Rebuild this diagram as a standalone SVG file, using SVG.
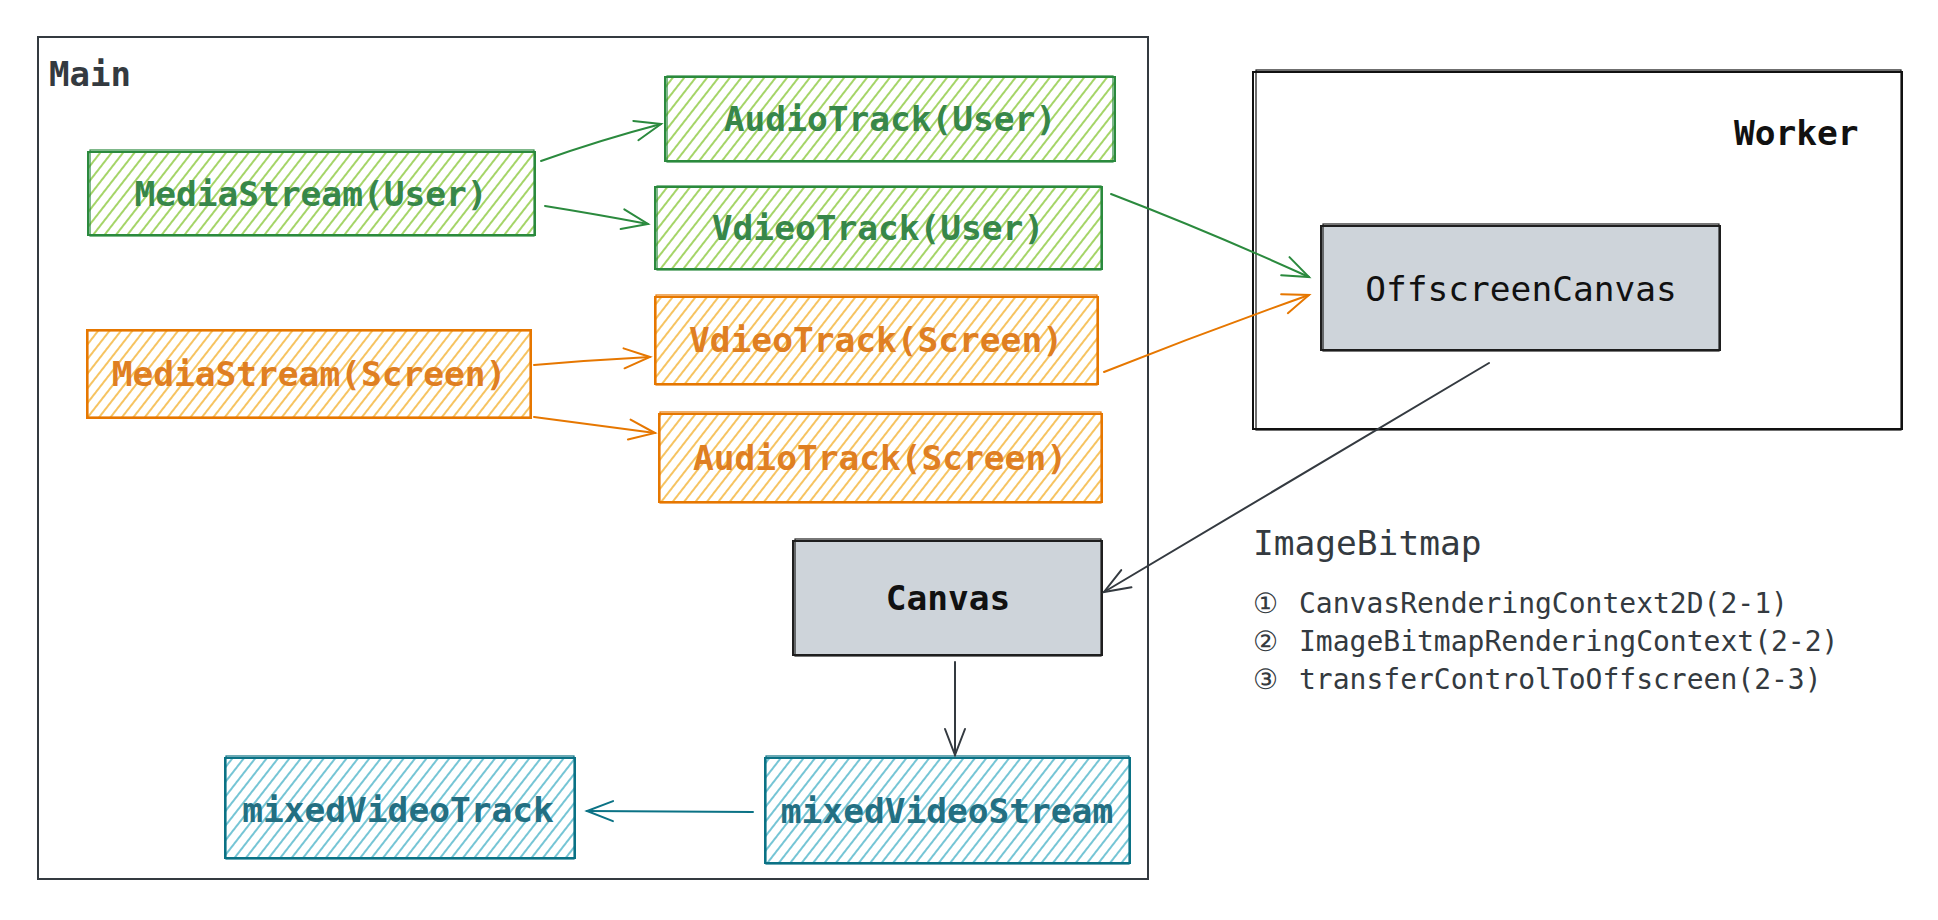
<svg xmlns="http://www.w3.org/2000/svg" width="1938" height="920" viewBox="0 0 1938 920">
<style>
text{font-family:"DejaVu Sans Mono","Liberation Mono",monospace;dominant-baseline:central}
.lbl{font-size:34.5px;text-anchor:middle}
.g .b{fill:url(#hG);stroke:#2b8a3e}
.o .b{fill:url(#hO);stroke:#e67700}
.t .b{fill:url(#hT);stroke:#0b7285}
.k .b{fill:#ced4da;stroke:#1e1e1e}
.b{stroke-width:2}
.b2{fill:none;stroke-width:1.2}
.g .b2{stroke:#2b8a3e}.o .b2{stroke:#e67700}.t .b2{stroke:#0b7285}.k .b2{stroke:#1e1e1e}
.g text{fill:#37874a;font-weight:bold}.o text{fill:#df7f22;font-weight:bold}.t text{fill:#236f82;font-weight:bold}.k text{fill:#111}
.c{fill:none;stroke-width:2;stroke-linecap:round}
.cg{stroke:#2b8a3e;marker-end:url(#aG)}
.co{stroke:#e67700;marker-end:url(#aO)}
.ck{stroke:#343a40;marker-end:url(#aK)}
.ct{stroke:#0b7285;marker-end:url(#aT)}
.frame{fill:none;stroke:#343a40;stroke-width:2}
.li{font-size:28px;fill:#343a40}
</style>
<defs>
<pattern id="hG" width="9" height="9" patternUnits="userSpaceOnUse" patternTransform="rotate(38)"><line x1="2" y1="0" x2="2" y2="9" stroke="#9bd057" stroke-width="1.8"/></pattern>
<pattern id="hO" width="9" height="9" patternUnits="userSpaceOnUse" patternTransform="rotate(38)"><line x1="2" y1="0" x2="2" y2="9" stroke="#f5bd50" stroke-width="1.8"/></pattern>
<pattern id="hT" width="9" height="9" patternUnits="userSpaceOnUse" patternTransform="rotate(38)"><line x1="2" y1="0" x2="2" y2="9" stroke="#66bfd1" stroke-width="1.8"/></pattern>
<marker id="aG" markerUnits="userSpaceOnUse" markerWidth="40" markerHeight="40" viewBox="-30 -20 40 40" refX="0" refY="0" orient="auto"><path d="M-26 -10 L0 0 L-26 10" fill="none" stroke="#2b8a3e" stroke-width="2" stroke-linecap="round"/></marker>
<marker id="aO" markerUnits="userSpaceOnUse" markerWidth="40" markerHeight="40" viewBox="-30 -20 40 40" refX="0" refY="0" orient="auto"><path d="M-26 -10 L0 0 L-26 10" fill="none" stroke="#e67700" stroke-width="2" stroke-linecap="round"/></marker>
<marker id="aK" markerUnits="userSpaceOnUse" markerWidth="40" markerHeight="40" viewBox="-30 -20 40 40" refX="0" refY="0" orient="auto"><path d="M-26 -10 L0 0 L-26 10" fill="none" stroke="#343a40" stroke-width="2" stroke-linecap="round"/></marker>
<marker id="aT" markerUnits="userSpaceOnUse" markerWidth="40" markerHeight="40" viewBox="-30 -20 40 40" refX="0" refY="0" orient="auto"><path d="M-26 -10 L0 0 L-26 10" fill="none" stroke="#0b7285" stroke-width="2" stroke-linecap="round"/></marker>
</defs>
<rect width="1938" height="920" fill="#fff"/>

<g id="main">
<rect class="frame" x="38" y="37" width="1110" height="842"/>
<text x="49" y="74" style="font-size:34px;fill:#343a40;font-weight:bold">Main</text>
</g>

<g id="worker">
<rect class="frame" x="1253" y="72" width="649" height="357" style="stroke:#111"/>
<rect class="b2" x="1256" y="70" width="645" height="360" style="stroke:#111;fill:none"/>
<text x="1734" y="133" style="font-size:34.5px;fill:#111;font-weight:bold">Worker</text>
</g>

<g id="n1" class="g">
<rect class="b" x="88" y="152" width="447" height="83"/>
<rect class="b2" x="90" y="150" width="444" height="86"/>
<text class="lbl" x="311" y="194">MediaStream(User)</text>
</g>
<g id="n2" class="g">
<rect class="b" x="665" y="77" width="450" height="84"/>
<rect class="b2" x="667" y="76" width="446" height="86"/>
<text class="lbl" x="890" y="119">AudioTrack(User)</text>
</g>
<g id="n3" class="g">
<rect class="b" x="655" y="187" width="447" height="82"/>
<rect class="b2" x="657" y="186" width="444" height="84"/>
<text class="lbl" x="878" y="228">VdieoTrack(User)</text>
</g>
<g id="n4" class="o">
<rect class="b" x="87" y="330" width="444" height="88"/>
<rect class="b2" x="88" y="331" width="442" height="86"/>
<text class="lbl" x="309" y="374">MediaStream(Screen)</text>
</g>
<g id="n5" class="o">
<rect class="b" x="655" y="297" width="443" height="87"/>
<rect class="b2" x="656" y="295" width="441" height="90"/>
<text class="lbl" x="876" y="340">VdieoTrack(Screen)</text>
</g>
<g id="n6" class="o">
<rect class="b" x="659" y="414" width="443" height="88"/>
<rect class="b2" x="660" y="412" width="441" height="91"/>
<text class="lbl" x="880" y="458">AudioTrack(Screen)</text>
</g>
<g id="n7" class="k">
<rect class="b" x="793" y="541" width="309" height="114"/>
<rect class="b2" x="795" y="539" width="306" height="117"/>
<text class="lbl" x="948" y="598" style="font-weight:bold">Canvas</text>
</g>
<g id="n8" class="t">
<rect class="b" x="765" y="758" width="365" height="105"/>
<rect class="b2" x="766" y="756" width="363" height="108"/>
<text class="lbl" x="947" y="811">mixedVideoStream</text>
</g>
<g id="n9" class="t">
<rect class="b" x="225" y="758" width="350" height="100"/>
<rect class="b2" x="226" y="756" width="348" height="103"/>
<text class="lbl" x="398" y="810">mixedVideoTrack</text>
</g>
<g id="n10" class="k">
<rect class="b" x="1321" y="226" width="399" height="124"/>
<rect class="b2" x="1323" y="224" width="396" height="127"/>
<text class="lbl" x="1521" y="289">OffscreenCanvas</text>
</g>

<g id="note">
<text x="1253" y="543" style="font-size:34.5px;fill:#343a40">ImageBitmap</text>
<text class="li" x="1253" y="603">①</text><text class="li" x="1299" y="603">CanvasRenderingContext2D(2-1)</text>
<text class="li" x="1253" y="641">②</text><text class="li" x="1299" y="641">ImageBitmapRenderingContext(2-2)</text>
<text class="li" x="1253" y="679">③</text><text class="li" x="1299" y="679">transferControlToOffscreen(2-3)</text>
</g>

<g id="connectors">
<path class="c cg" d="M541 161 Q600 140 661 124"/>
<path class="c cg" d="M545 206 Q595 214 648 224"/>
<path class="c cg" d="M1111 194 Q1210 232 1309 277"/>
<path class="c co" d="M534 365 Q592 360 650 357"/>
<path class="c co" d="M534 417 Q595 425 655 433"/>
<path class="c co" d="M1104 372 Q1205 332 1309 295"/>
<path class="c ck" d="M1489 363 L1104 592"/>
<path class="c ck" d="M955 662 L955 755"/>
<path class="c ct" d="M753 812 L587 811"/>
</g>
</svg>
